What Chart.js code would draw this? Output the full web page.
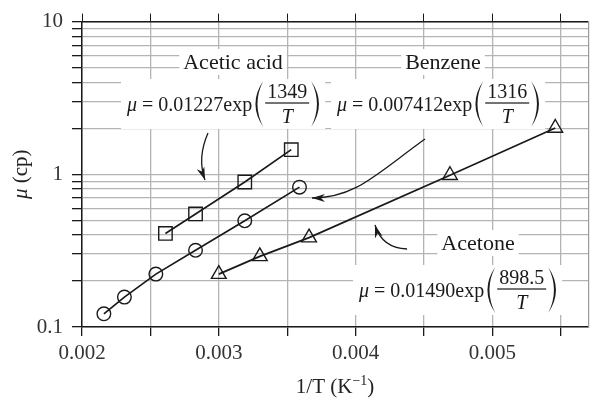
<!DOCTYPE html>
<html>
<head>
<meta charset="utf-8">
<script src="https://cdn.jsdelivr.net/npm/chart.js@4/dist/chart.umd.min.js"></script>
<style>
  html, body { margin: 0; padding: 0; background: #fff; }
  canvas { display: block; }
</style>
</head>
<body>
<canvas id="chart" width="599" height="401"></canvas>
<script>
// --- datos ---
const aceticX = [0.00261, 0.00283, 0.00319, 0.00353];
const aceticY = [0.41, 0.55, 0.89, 1.45];
const benzeneX = [0.00216, 0.00231, 0.00254, 0.00283, 0.00319, 0.00359];
const benzeneY = [0.122, 0.157, 0.222, 0.318, 0.496, 0.824];
const acetoneX = [0.00300, 0.00330, 0.00366, 0.00469, 0.00546];
const acetoneY = [0.222, 0.290, 0.385, 0.986, 2.01];

const xTicks = [0.002, 0.0025, 0.003, 0.0035, 0.004, 0.0045, 0.005, 0.0055];
const xTickLabels = ['0.002', '', '0.003', '', '0.004', '', '0.005', ''];
const yTicks = [0.1, 0.2, 0.3, 0.4, 0.5, 0.6, 0.7, 0.8, 0.9,
                1, 2, 3, 4, 5, 6, 7, 8, 9, 10];
const yTickLabels = ['0.1', '', '', '', '', '', '', '', '',
                     '1', '', '', '', '', '', '', '', '', '10'];

const SERIF = '"Liberation Serif", "DejaVu Serif", serif';
const INK = '#1a1a1a';
const GRID = '#b4b4b4';

const pts = (xs, ys) => xs.map((x, i) => ({ x: x, y: ys[i] }));

function serie(label, xs, ys, style, radius) {
    return {
        label: label,
        data: pts(xs, ys),
        showLine: true,
        borderColor: INK,
        borderWidth: 1.7,
        pointStyle: style,
        pointRadius: radius,
        pointBorderWidth: 1.4,
        pointBorderColor: INK,
        pointBackgroundColor: 'rgba(0,0,0,0)'
    };
}

// --- anotaciones dibujadas a mano ---
function paren(ctx, x, cy, w, h, right) {
    const t = cy - h / 2, b = cy + h / 2;
    ctx.beginPath();
    if (!right) {
        ctx.moveTo(x + w, t);
        ctx.quadraticCurveTo(x - w * 0.55, cy, x + w, b);
        ctx.quadraticCurveTo(x - w * 0.55 + 4, cy, x + w, t);
    } else {
        ctx.moveTo(x, t);
        ctx.quadraticCurveTo(x + w * 1.55, cy, x, b);
        ctx.quadraticCurveTo(x + w * 1.55 - 4, cy, x, t);
    }
    ctx.fill();
}

function formula(ctx, x, cy, coef, num) {
    const f = 20;
    const it = `italic ${f}px ${SERIF}`, rm = `${f}px ${SERIF}`;
    ctx.font = it;
    const wMu = ctx.measureText('μ').width;
    ctx.font = rm;
    const main = ' = ' + coef + 'exp';
    const wMain = ctx.measureText(main).width;
    const fracW = ctx.measureText(num).width + 4;
    const pw = 10;
    const total = wMu + wMain + 1 + pw + 2 + fracW + 2 + pw;

    ctx.fillStyle = '#fff';
    ctx.fillRect(x - 6, cy - 25, total + 10, 50);

    ctx.fillStyle = INK;
    ctx.textAlign = 'left';
    ctx.textBaseline = 'alphabetic';
    const base = cy + 7;
    ctx.font = it;
    ctx.fillText('μ', x, base);
    ctx.font = rm;
    ctx.fillText(main, x + wMu, base);

    const px = x + wMu + wMain + 1;
    paren(ctx, px, cy, pw, 46, false);
    const fx = px + pw + 2;
    ctx.textAlign = 'center';
    ctx.fillText(num, fx + fracW / 2, cy - 6);
    ctx.font = it;
    ctx.fillText('T', fx + fracW / 2, cy + 19);
    ctx.fillRect(fx, cy - 1.6, fracW, 1.2);
    paren(ctx, fx + fracW + 2, cy, pw, 46, true);
}

function label(ctx, text, cx, cy) {
    ctx.font = `22px ${SERIF}`;
    const w = ctx.measureText(text).width;
    ctx.fillStyle = '#fff';
    ctx.fillRect(cx - w / 2 - 4, cy - 13, w + 8, 26);
    ctx.fillStyle = INK;
    ctx.textAlign = 'center';
    ctx.textBaseline = 'middle';
    ctx.fillText(text, cx, cy + 1);
}

function head(ctx, x, y, ang) {
    ctx.save();
    ctx.translate(x, y);
    ctx.rotate(ang);
    ctx.beginPath();
    ctx.moveTo(0, 0);
    ctx.lineTo(-13, -4);
    ctx.lineTo(-9, 0);
    ctx.lineTo(-13, 4);
    ctx.closePath();
    ctx.fill();
    ctx.restore();
}

function arrowQ(ctx, x0, y0, qx, qy, x1, y1) {
    ctx.beginPath();
    ctx.moveTo(x0, y0);
    ctx.quadraticCurveTo(qx, qy, x1, y1);
    ctx.stroke();
    head(ctx, x1, y1, Math.atan2(y1 - qy, x1 - qx));
}

function arrowC(ctx, x0, y0, ax, ay, bx, by, x1, y1) {
    ctx.beginPath();
    ctx.moveTo(x0, y0);
    ctx.bezierCurveTo(ax, ay, bx, by, x1, y1);
    ctx.stroke();
    head(ctx, x1, y1, Math.atan2(y1 - by, x1 - bx));
}

const notas = {
    id: 'notas',
    afterDraw(chart) {
        const ctx = chart.ctx;
        const area = chart.chartArea;
        ctx.save();

        label(ctx, 'Acetic acid', 233, 62);
        label(ctx, 'Benzene', 443, 62);
        label(ctx, 'Acetone', 478, 243);

        formula(ctx, 127, 104, '0.01227', '1349');
        formula(ctx, 337, 104, '0.007412', '1316');
        formula(ctx, 359, 290, '0.01490', '898.5');

        ctx.strokeStyle = INK;
        ctx.fillStyle = INK;
        ctx.lineWidth = 1.3;
        arrowQ(ctx, 208, 133, 197, 158, 205, 180);
        arrowC(ctx, 425, 139, 375, 175, 355, 198, 312, 198);
        arrowQ(ctx, 407, 249, 382, 248, 375, 225);

        // título eje y: μ (cp)
        ctx.save();
        ctx.translate(21, (area.top + area.bottom) / 2);
        ctx.rotate(-Math.PI / 2);
        ctx.textBaseline = 'middle';
        ctx.textAlign = 'left';
        ctx.fillStyle = '#222';
        ctx.font = `italic 21px ${SERIF}`;
        const wMu = ctx.measureText('μ').width;
        ctx.font = `21px ${SERIF}`;
        const wRest = ctx.measureText(' (cp)').width;
        const sx = -(wMu + wRest) / 2;
        ctx.font = `italic 21px ${SERIF}`;
        ctx.fillText('μ', sx, 0);
        ctx.font = `21px ${SERIF}`;
        ctx.fillText(' (cp)', sx + wMu, 0);
        ctx.restore();

        // título eje x: 1/T (K^-1)
        const cx = (area.left + area.right) / 2;
        const by = 393;
        ctx.textBaseline = 'alphabetic';
        ctx.textAlign = 'left';
        ctx.font = `21px ${SERIF}`;
        const a = '1/T (K', c = ')';
        const wa = ctx.measureText(a).width, wc = ctx.measureText(c).width;
        ctx.font = `14px ${SERIF}`;
        const wb = ctx.measureText('−1').width;
        const tx = cx - (wa + wb + wc) / 2;
        ctx.fillStyle = '#222';
        ctx.font = `21px ${SERIF}`;
        ctx.fillText(a, tx, by);
        ctx.font = `14px ${SERIF}`;
        ctx.fillText('−1', tx + wa, by - 8);
        ctx.font = `21px ${SERIF}`;
        ctx.fillText(c, tx + wa + wb, by);

        ctx.restore();
    }
};

const tickFont = { family: SERIF, size: 21 };

new Chart(document.getElementById('chart'), {
    type: 'scatter',
    data: {
        datasets: [
            serie('Acetic acid', aceticX, aceticY, 'rect', 9.5),
            serie('Benzene', benzeneX, benzeneY, 'circle', 6.8),
            serie('Acetone', acetoneX, acetoneY, 'triangle', 8.5)
        ]
    },
    options: {
        responsive: false,
        animation: false,
        layout: { padding: 0 },
        plugins: { legend: { display: false }, tooltip: { enabled: false } },
        scales: {
            x: {
                type: 'linear', position: 'bottom',
                min: 0.002, max: 0.0057,
                afterBuildTicks: s => { s.ticks = xTicks.map(v => ({ value: v })); },
                afterFit: s => { s.height = 74; },
                ticks: {
                    font: tickFont, color: '#333', padding: 5, maxRotation: 0,
                    autoSkip: false,
                    callback: (v, i) => xTickLabels[i]
                },
                grid: { color: GRID, lineWidth: 1.3, tickColor: INK, tickLength: 9 },
                border: { color: INK, width: 1.5 }
            },
            xTop: {
                type: 'linear', position: 'top',
                min: 0.002, max: 0.0057,
                afterBuildTicks: s => { s.ticks = xTicks.map(v => ({ value: v })); },
                afterFit: s => { s.height = 17; },
                ticks: { autoSkip: false, callback: () => '' },
                grid: { drawOnChartArea: false, tickColor: INK, tickLength: 8 },
                border: { color: INK, width: 1.5 }
            },
            y: {
                type: 'logarithmic', position: 'left',
                min: 0.1, max: 10,
                afterBuildTicks: s => { s.ticks = yTicks.map(v => ({ value: v })); },
                afterFit: s => { s.width = 82; },
                ticks: {
                    font: tickFont, color: '#333', padding: 9, autoSkip: false,
                    callback: (v, i) => yTickLabels[i]
                },
                grid: { color: GRID, lineWidth: 1.3, tickColor: INK, tickLength: 10 },
                border: { color: INK, width: 1.5 }
            },
            yRight: {
                type: 'linear', position: 'right',
                min: 0, max: 1,
                afterFit: s => { s.width = 1; },
                ticks: { display: false },
                grid: { drawOnChartArea: false, drawTicks: false },
                border: { color: '#999', width: 1.2 }
            }
        }
    },
    plugins: [notas]
});
</script>
</body>
</html>
